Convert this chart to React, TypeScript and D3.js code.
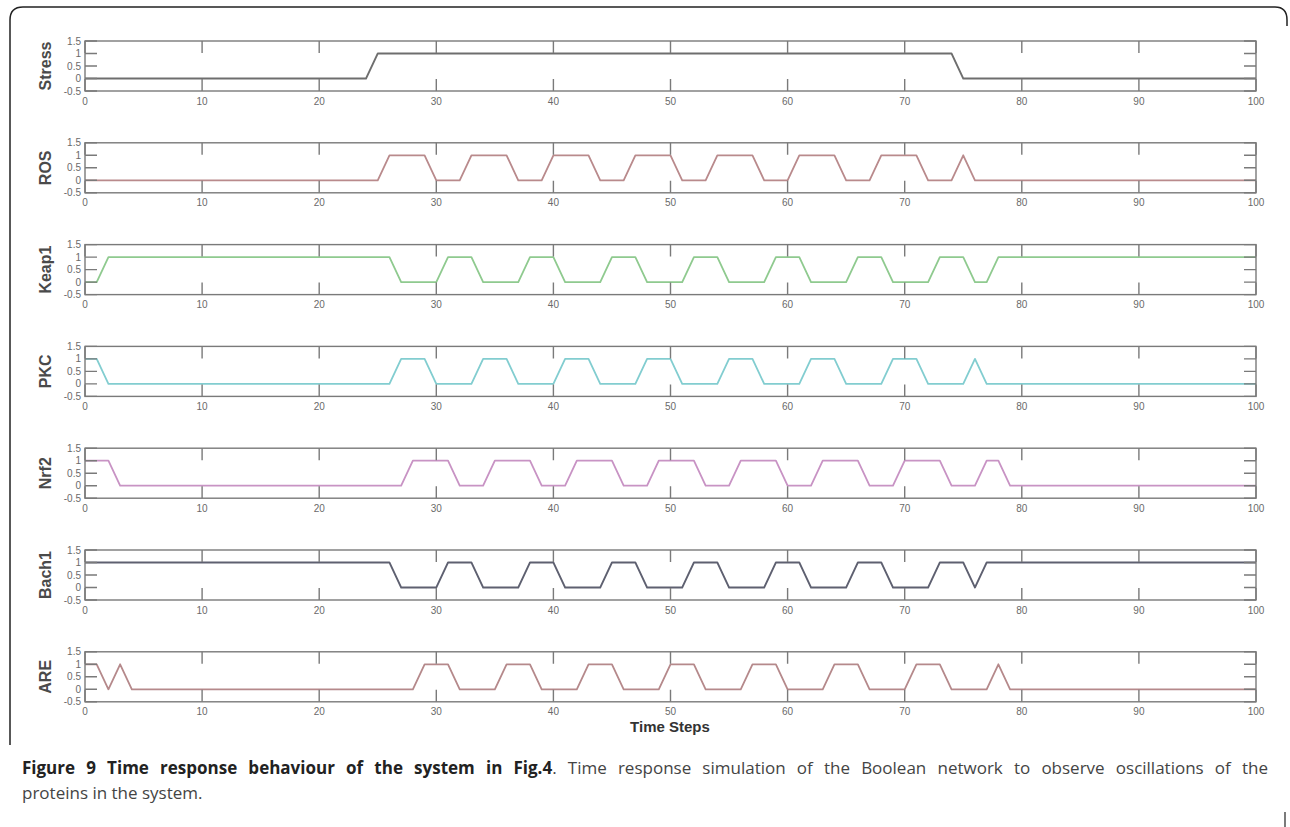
import React from 'react'
import * as d3 from 'd3'

// time steps 0..100, one value per step (Boolean states)
const stress = [
  0, 0, 0, 0, 0, 0, 0, 0, 0, 0,
  0, 0, 0, 0, 0, 0, 0, 0, 0, 0,
  0, 0, 0, 0, 0, 1, 1, 1, 1, 1,
  1, 1, 1, 1, 1, 1, 1, 1, 1, 1,
  1, 1, 1, 1, 1, 1, 1, 1, 1, 1,
  1, 1, 1, 1, 1, 1, 1, 1, 1, 1,
  1, 1, 1, 1, 1, 1, 1, 1, 1, 1,
  1, 1, 1, 1, 1, 0, 0, 0, 0, 0,
  0, 0, 0, 0, 0, 0, 0, 0, 0, 0,
  0, 0, 0, 0, 0, 0, 0, 0, 0, 0,
  0,
]
const ros = [
  0, 0, 0, 0, 0, 0, 0, 0, 0, 0,
  0, 0, 0, 0, 0, 0, 0, 0, 0, 0,
  0, 0, 0, 0, 0, 0, 1, 1, 1, 1,
  0, 0, 0, 1, 1, 1, 1, 0, 0, 0,
  1, 1, 1, 1, 0, 0, 0, 1, 1, 1,
  1, 0, 0, 0, 1, 1, 1, 1, 0, 0,
  0, 1, 1, 1, 1, 0, 0, 0, 1, 1,
  1, 1, 0, 0, 0, 1, 0, 0, 0, 0,
  0, 0, 0, 0, 0, 0, 0, 0, 0, 0,
  0, 0, 0, 0, 0, 0, 0, 0, 0, 0,
  0,
]
const keap1 = [
  0, 0, 1, 1, 1, 1, 1, 1, 1, 1,
  1, 1, 1, 1, 1, 1, 1, 1, 1, 1,
  1, 1, 1, 1, 1, 1, 1, 0, 0, 0,
  0, 1, 1, 1, 0, 0, 0, 0, 1, 1,
  1, 0, 0, 0, 0, 1, 1, 1, 0, 0,
  0, 0, 1, 1, 1, 0, 0, 0, 0, 1,
  1, 1, 0, 0, 0, 0, 1, 1, 1, 0,
  0, 0, 0, 1, 1, 1, 0, 0, 1, 1,
  1, 1, 1, 1, 1, 1, 1, 1, 1, 1,
  1, 1, 1, 1, 1, 1, 1, 1, 1, 1,
  1,
]
const pkc = [
  1, 1, 0, 0, 0, 0, 0, 0, 0, 0,
  0, 0, 0, 0, 0, 0, 0, 0, 0, 0,
  0, 0, 0, 0, 0, 0, 0, 1, 1, 1,
  0, 0, 0, 0, 1, 1, 1, 0, 0, 0,
  0, 1, 1, 1, 0, 0, 0, 0, 1, 1,
  1, 0, 0, 0, 0, 1, 1, 1, 0, 0,
  0, 0, 1, 1, 1, 0, 0, 0, 0, 1,
  1, 1, 0, 0, 0, 0, 1, 0, 0, 0,
  0, 0, 0, 0, 0, 0, 0, 0, 0, 0,
  0, 0, 0, 0, 0, 0, 0, 0, 0, 0,
  0,
]
const nrf2 = [
  1, 1, 1, 0, 0, 0, 0, 0, 0, 0,
  0, 0, 0, 0, 0, 0, 0, 0, 0, 0,
  0, 0, 0, 0, 0, 0, 0, 0, 1, 1,
  1, 1, 0, 0, 0, 1, 1, 1, 1, 0,
  0, 0, 1, 1, 1, 1, 0, 0, 0, 1,
  1, 1, 1, 0, 0, 0, 1, 1, 1, 1,
  0, 0, 0, 1, 1, 1, 1, 0, 0, 0,
  1, 1, 1, 1, 0, 0, 0, 1, 1, 0,
  0, 0, 0, 0, 0, 0, 0, 0, 0, 0,
  0, 0, 0, 0, 0, 0, 0, 0, 0, 0,
  0,
]
const bach1 = [
  1, 1, 1, 1, 1, 1, 1, 1, 1, 1,
  1, 1, 1, 1, 1, 1, 1, 1, 1, 1,
  1, 1, 1, 1, 1, 1, 1, 0, 0, 0,
  0, 1, 1, 1, 0, 0, 0, 0, 1, 1,
  1, 0, 0, 0, 0, 1, 1, 1, 0, 0,
  0, 0, 1, 1, 1, 0, 0, 0, 0, 1,
  1, 1, 0, 0, 0, 0, 1, 1, 1, 0,
  0, 0, 0, 1, 1, 1, 0, 1, 1, 1,
  1, 1, 1, 1, 1, 1, 1, 1, 1, 1,
  1, 1, 1, 1, 1, 1, 1, 1, 1, 1,
  1,
]
const are = [
  1, 1, 0, 1, 0, 0, 0, 0, 0, 0,
  0, 0, 0, 0, 0, 0, 0, 0, 0, 0,
  0, 0, 0, 0, 0, 0, 0, 0, 0, 1,
  1, 1, 0, 0, 0, 0, 1, 1, 1, 0,
  0, 0, 0, 1, 1, 1, 0, 0, 0, 0,
  1, 1, 1, 0, 0, 0, 0, 1, 1, 1,
  0, 0, 0, 0, 1, 1, 1, 0, 0, 0,
  0, 1, 1, 1, 0, 0, 0, 0, 1, 0,
  0, 0, 0, 0, 0, 0, 0, 0, 0, 0,
  0, 0, 0, 0, 0, 0, 0, 0, 0, 0,
  0,
]

const names = ['Stress', 'ROS', 'Keap1', 'PKC', 'Nrf2', 'Bach1', 'ARE']
const colors = ['#6e6e6e', '#b98a8c', '#8fca8f', '#82cdd0', '#c893c4', '#5e6070', '#b5898b']
const xTicks = [0, 10, 20, 30, 40, 50, 60, 70, 80, 90, 100]
const yTicks = [-0.5, 0, 0.5, 1, 1.5]
const yTickLabels = ['-0.5', '0', '0.5', '1', '1.5']

function App() {
  const width = 1290
  const height = 827
  const series = [stress, ros, keap1, pkc, nrf2, bach1, are]

  const left = 85
  const right = 1256
  const firstTop = 41
  const step = 101.8
  const panelH = 50
  const tickLen = 12

  const x = d3.scaleLinear().domain([0, 100]).range([left, right])
  const axisColor = '#7a7a7a'

  return (
    <div className="App">
      <svg width={width} height={height} style={{ position: 'absolute', left: 0, top: 0 }}>
        <rect width={width} height={height} fill="#fff" />
        {/* figure frame */}
        <path d="M10,745 V20 Q10,7 23,7 H1275 Q1287,7 1287,20 V26" fill="none" stroke="#222" strokeWidth="1.5" />
        <path d="M1285,812 V827" fill="none" stroke="#222" strokeWidth="1.2" />

        {series.map((values, i) => {
          const top = firstTop + i * step
          const y = d3.scaleLinear().domain([-0.5, 1.5]).range([top + panelH, top])
          const line = d3.line<number>().x((_, t) => x(t)).y(v => y(v))
          return (
            <g key={names[i]}>
              <path d={line(values) || ''} fill="none" stroke={colors[i]} strokeWidth="1.8" strokeLinejoin="round" />
              <rect x={left} y={top} width={right - left} height={panelH} fill="none" stroke={axisColor} strokeWidth="1.4" />
              {/* x ticks, inside the box at top and bottom */}
              {xTicks.map(tick => (
                <g key={tick}>
                  <path d={`M${x(tick)},${top} v${tickLen} M${x(tick)},${top + panelH} v${-tickLen}`} stroke={axisColor} strokeWidth="1.4" />
                  <text x={x(tick)} y={top + panelH + 13.5} textAnchor="middle" fontFamily="Liberation Sans, Arial, sans-serif" fontSize="10" fill="#6a6a6a">{tick}</text>
                </g>
              ))}
              {/* y ticks on both sides */}
              {yTicks.map((tick, k) => (
                <g key={tick}>
                  <path d={`M${left},${y(tick)} h${tickLen} M${right},${y(tick)} h${-tickLen}`} stroke={axisColor} strokeWidth="1.4" />
                  <text x={left - 4} y={y(tick)} dy="0.35em" textAnchor="end" fontFamily="Liberation Sans, Arial, sans-serif" fontSize="10" fill="#6a6a6a">{yTickLabels[k]}</text>
                </g>
              ))}
              <text transform={`translate(51 ${top + panelH / 2}) rotate(-90)`} textAnchor="middle" fontFamily="Liberation Sans, Arial, sans-serif" fontSize="16" fontWeight="bold" fill="#4a4a4a">{names[i]}</text>
            </g>
          )
        })}

        <text x={670} y={732} textAnchor="middle" fontFamily="Liberation Sans, Arial, sans-serif" fontSize="15" fontWeight="bold" fill="#333">Time Steps</text>
      </svg>

      <div style={{ position: 'absolute', left: 22, top: 755, width: 1246, fontFamily: '"Open Sans", "Noto Sans", sans-serif', fontSize: 17, lineHeight: '25px', color: '#444' }}>
        <div style={{ textAlign: 'justify', textAlignLast: 'justify', whiteSpace: 'nowrap' }}>
          <b style={{ color: '#222' }}>Figure 9 Time response behaviour of the system in Fig.4</b>. Time response simulation of the Boolean network to observe oscillations of the
        </div>
        <div>proteins in the system.</div>
      </div>
    </div>
  )
}

export default App
